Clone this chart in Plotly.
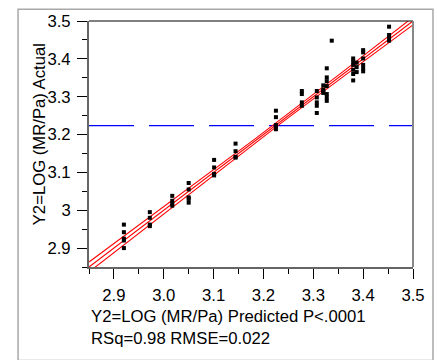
import numpy as np
import plotly.graph_objects as go

# Predicted values (one entry per group) and the actual responses at each
predicted_groups = [2.920, 2.972, 3.017, 3.050, 3.101, 3.144, 3.225, 3.277,
                    3.307, 3.320, 3.327, 3.337, 3.380, 3.387, 3.400, 3.452]
actual_groups = [
    [2.962, 2.942, 2.925, 2.920, 2.900],
    [2.995, 2.980, 2.962, 2.958],
    [3.038, 3.025, 3.018, 3.012],
    [3.072, 3.055, 3.034, 3.030, 3.020],
    [3.133, 3.113, 3.096, 3.092],
    [3.176, 3.156, 3.141, 3.139],
    [3.263, 3.246, 3.225, 3.221, 3.214],
    [3.315, 3.307, 3.285, 3.276],
    [3.315, 3.298, 3.285, 3.276, 3.257],
    [3.330, 3.319, 3.315, 3.310],
    [3.375, 3.351, 3.341, 3.328, 3.307, 3.298, 3.289],
    [3.448],
    [3.401, 3.393, 3.384, 3.371, 3.360, 3.343],
    [3.390, 3.378, 3.365],
    [3.423, 3.417, 3.401, 3.384, 3.375, 3.367],
    [3.485, 3.463, 3.457, 3.448],
]
mean_actual = 3.2235
rmse = 0.022
x_ticks = [2.9, 3.0, 3.1, 3.2, 3.3, 3.4, 3.5]
x_tick_labels = ["2.9", "3.0", "3.1", "3.2", "3.3", "3.4", "3.5"]
y_ticks = [2.9, 3.0, 3.1, 3.2, 3.3, 3.4, 3.5]
y_tick_labels = ["2.9", "3", "3.1", "3.2", "3.3", "3.4", "3.5"]

pred = np.concatenate([[p] * len(a) for p, a in zip(predicted_groups, actual_groups)])
act = np.concatenate([np.array(a) for a in actual_groups])

# Fit line (actual = predicted) with confidence curves
n = len(pred)
xbar = pred.mean()
sxx = ((pred - xbar) ** 2).sum()
xs = np.linspace(2.85, 3.5, 200)
half = 2.0 * rmse * np.sqrt(1.0 / n + (xs - xbar) ** 2 / sxx)

FONT = "Liberation Sans, Arial, sans-serif"
FS = 16.7
RED = "#ff0000"

fig = go.Figure()
fig.add_trace(go.Scatter(x=[2.85, 3.5], y=[mean_actual, mean_actual], mode="lines",
                         line=dict(color="#0000ff", width=1.4, dash="45px,15px"),
                         hoverinfo="skip"))
fig.add_trace(go.Scatter(x=xs, y=xs + half, mode="lines",
                         line=dict(color=RED, width=1.1), hoverinfo="skip"))
fig.add_trace(go.Scatter(x=xs, y=xs - half, mode="lines",
                         line=dict(color=RED, width=1.1), hoverinfo="skip"))
fig.add_trace(go.Scatter(x=xs, y=xs, mode="lines",
                         line=dict(color=RED, width=1.1), hoverinfo="skip"))
fig.add_trace(go.Scatter(x=pred, y=act, mode="markers",
                         marker=dict(symbol="square", size=4, color="black",
                                     line=dict(width=0))))

axis_common = dict(
    range=[2.85, 3.5], showgrid=False, zeroline=False,
    showline=True, linecolor="#666666", linewidth=2,
    ticks="outside", ticklen=10, tickwidth=1, tickcolor="black",
    minor=dict(dtick=0.05, tick0=2.85, ticks="outside", ticklen=5,
               tickwidth=1, tickcolor="black", showgrid=False),
    tickfont=dict(family=FONT, size=FS, color="black"),
)

fig.update_layout(
    width=437, height=360,
    margin=dict(l=89, r=24, t=15, b=93),
    paper_bgcolor="white", plot_bgcolor="white",
    showlegend=False,
    font=dict(family=FONT, size=FS, color="black"),
    xaxis=dict(**axis_common, tickvals=x_ticks, ticktext=x_tick_labels,
               ticklabelstandoff=2),
    yaxis=dict(**axis_common, tickvals=y_ticks, ticktext=y_tick_labels,
               ticklabelstandoff=3),
    shapes=[
        # outer panel frame
        dict(type="rect", xref="paper", yref="paper",
             x0=-0.219, x1=1.0617, y0=-0.38, y1=1.0476,
             line=dict(color="#a8a8a8", width=1.5), layer="below"),
        # top and right borders of the plot frame
        dict(type="line", xref="paper", yref="paper", x0=0, x1=1, y0=1, y1=1,
             line=dict(color="black", width=1)),
        dict(type="line", xref="paper", yref="paper", x0=1, x1=1, y0=0, y1=1,
             line=dict(color="#888888", width=2)),
    ],
    annotations=[
        dict(text="Y2=LOG (MR/Pa) Actual", textangle=-90,
             xref="paper", yref="paper", x=-0.154, y=0.54,
             xanchor="center", yanchor="middle", showarrow=False,
             font=dict(family=FONT, size=FS, color="black")),
        dict(text="Y2=LOG (MR/Pa) Predicted P<.0001",
             xref="paper", yref="paper", x=0.0, y=-0.2,
             xanchor="left", yanchor="middle", showarrow=False,
             font=dict(family=FONT, size=FS, color="black")),
        dict(text="RSq=0.98 RMSE=0.022",
             xref="paper", yref="paper", x=0.0, y=-0.29,
             xanchor="left", yanchor="middle", showarrow=False,
             font=dict(family=FONT, size=FS, color="black")),
    ],
)

fig.write_html("out.html")
